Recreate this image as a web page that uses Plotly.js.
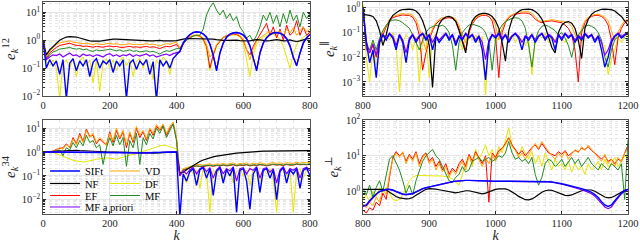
<!DOCTYPE html>
<html>
<head>
<meta charset="utf-8">
<script src="https://cdn.plot.ly/plotly-3.0.1.min.js"></script>
<style>html,body{margin:0;padding:0;background:#fff;}#chart{width:640px;height:243px;}</style>
</head>
<body>
<div id="chart"></div>
<script>
// ---------- sample positions ----------
const kLeft = [0,10,20,30,40,50,60,70,80,90,100,110,120,130,140,150,160,170,180,190,200,210,220,230,240,250,260,270,280,290,300,310,320,330,340,350,360,370,380,390,400,410,420,430,440,450,460,470,480,490,500,510,520,530,540,550,560,570,580,590,600,610,620,630,640,650,660,670,680,690,700,710,720,730,740,750,760,770,780,790,800];
const kRight = [800,805,810,815,820,825,830,835,840,845,850,855,860,865,870,875,880,885,890,895,900,905,910,915,920,925,930,935,940,945,950,955,960,965,970,975,980,985,990,995,1000,1005,1010,1015,1020,1025,1030,1035,1040,1045,1050,1055,1060,1065,1070,1075,1080,1085,1090,1095,1100,1105,1110,1115,1120,1125,1130,1135,1140,1145,1150,1155,1160,1165,1170,1175,1180,1185,1190,1195,1200];

// ---------- panel 1: e_k^12 ----------
const e12_NF = [1.0,0.3,0.45,0.6,0.8,1.0,1.15,1.3,1.35,1.35,1.3,1.2,1.1,1.0,0.95,0.92,0.9,0.92,0.97,1.02,1.08,1.1,1.1,1.08,1.05,1.05,1.02,1.0,1.0,1.02,1.0,0.98,0.95,0.95,0.97,0.98,0.95,0.93,0.93,0.95,0.97,1.05,1.1,1.15,1.15,1.12,1.1,1.1,1.12,1.15,1.15,1.1,1.05,1.0,0.98,0.98,1.0,1.02,1.0,0.97,0.95,0.93,0.95,1.0,1.05,1.02,0.98,0.95,0.97,1.02,1.05,1.0,0.95,0.97,1.02,0.95,0.9,0.95,1.05,1.12,1.15];
const e12_VD = [1.0,0.25,0.4,0.55,0.7,0.8,0.85,0.9,0.95,0.85,0.8,0.8,0.75,0.78,0.72,0.7,0.75,0.72,0.7,0.75,0.78,0.72,0.75,0.7,0.68,0.72,0.75,0.7,0.72,0.68,0.72,0.75,0.7,0.72,0.68,0.62,0.7,0.75,0.72,0.78,0.85,0.55,0.8,1.1,1.35,1.5,1.55,1.5,1.2,0.7,0.25,0.35,0.7,1.0,1.3,1.5,1.6,1.7,1.7,1.5,1.1,0.5,0.2,0.5,0.9,1.2,1.5,1.8,2.0,1.9,1.7,2.2,1.5,2.5,1.8,2.8,1.5,2.2,3.0,2.0,2.5];
const e12_EF = [1.0,0.22,0.35,0.45,0.55,0.65,0.7,0.75,0.78,0.7,0.65,0.65,0.6,0.62,0.58,0.56,0.6,0.58,0.56,0.6,0.62,0.58,0.6,0.56,0.55,0.58,0.6,0.56,0.58,0.55,0.58,0.6,0.56,0.58,0.55,0.5,0.56,0.6,0.58,0.62,0.7,0.5,0.75,1.05,1.3,1.45,1.5,1.4,1.1,0.6,0.1,0.3,0.65,0.95,1.25,1.45,1.55,1.65,1.6,1.4,1.0,0.45,0.3,0.6,1.0,1.5,2.5,4.0,1.5,3.0,1.2,2.5,1.0,3.5,1.5,2.0,5.0,1.5,3.0,1.5,2.0];
const e12_MF = [1.0,0.2,0.3,0.38,0.42,0.48,0.5,0.52,0.55,0.5,0.48,0.5,0.45,0.48,0.42,0.4,0.45,0.42,0.43,0.45,0.48,0.44,0.42,0.45,0.4,0.42,0.45,0.4,0.42,0.38,0.4,0.42,0.38,0.4,0.36,0.32,0.38,0.42,0.4,0.45,0.5,0.5,0.75,1.0,1.2,1.4,1.5,1.5,2.5,8.0,15,22,12,8,12,6,9,5,7,3,2,1.2,1.5,0.9,1.5,3,8,5,10,4,8,3,9,4,12,5,8,3,10,6,9];
const e12_DF = [1.0,0.18,0.12,0.2,0.1,0.008,0.15,0.2,0.1,0.22,0.05,0.18,0.25,0.12,0.2,0.03,0.2,0.015,0.15,0.22,0.1,0.2,0.08,0.18,0.25,0.12,0.2,0.05,0.18,0.22,0.1,0.2,0.15,0.04,0.2,0.12,0.25,0.18,0.06,0.22,0.3,0.4,0.7,1.0,1.25,1.4,1.45,1.35,1.0,0.45,0.08,0.25,0.6,0.9,1.2,1.4,1.5,1.55,1.5,1.3,0.8,0.2,0.05,0.3,0.7,1.0,1.3,1.5,1.7,1.6,1.4,1.1,0.6,0.25,0.1,0.3,0.7,1.0,1.3,1.6,1.8];
const e12_MFap = [1.0,0.2,0.25,0.3,0.28,0.32,0.25,0.3,0.35,0.28,0.3,0.25,0.32,0.28,0.3,0.26,0.3,0.28,0.25,0.3,0.33,0.27,0.3,0.26,0.3,0.28,0.32,0.26,0.3,0.27,0.3,0.32,0.27,0.3,0.25,0.28,0.3,0.32,0.28,0.33,0.35,0.38,0.75,1.15,1.55,1.85,1.95,1.9,1.65,1.25,0.7,0.28,0.09,0.33,0.78,1.25,1.6,1.8,1.85,1.75,1.5,1.1,0.6,0.24,0.09,0.33,0.78,1.2,1.55,1.8,1.85,1.75,1.5,1.1,0.6,0.24,0.13,0.33,0.78,1.2,1.6];
const e12_SIFt = [1.0,0.1,0.2,0.12,0.18,0.06,0.2,0.008,0.15,0.22,0.08,0.18,0.12,0.2,0.05,0.16,0.22,0.1,0.18,0.14,0.2,0.07,0.18,0.12,0.2,0.008,0.15,0.2,0.09,0.18,0.13,0.2,0.06,0.17,0.007,0.2,0.12,0.18,0.1,0.22,0.3,0.4,0.8,1.2,1.6,1.9,2.0,1.95,1.7,1.3,0.75,0.3,0.08,0.35,0.8,1.3,1.65,1.85,1.9,1.8,1.55,1.15,0.65,0.25,0.08,0.35,0.8,1.25,1.6,1.85,1.9,1.8,1.55,1.15,0.65,0.25,0.12,0.35,0.8,1.25,1.65];

// ---------- panel 2: e_k^parallel ----------
const ePar_NF = [0.55,0.53,0.5,0.45,0.3,0.12,0.03,0.08,0.3,0.5,0.65,0.78,0.86,0.9,0.9,0.86,0.75,0.55,0.3,0.12,0.03,0.0006,0.07,0.22,0.35,0.43,0.45,0.4,0.28,0.12,0.04,0.015,0.12,0.3,0.45,0.55,0.6,0.6,0.55,0.45,0.3,0.15,0.04,0.007,0.12,0.35,0.55,0.72,0.85,0.9,0.9,0.85,0.72,0.55,0.35,0.18,0.07,0.025,0.015,0.1,0.2,0.26,0.28,0.24,0.15,0.05,0.009,0.15,0.35,0.55,0.7,0.8,0.88,0.9,0.9,0.85,0.75,0.6,0.45,0.3,0.2];
const ePar_VD = [1.2,0.03,0.02,0.04,0.015,0.05,0.1,0.2,0.35,0.45,0.5,0.55,0.6,0.55,0.58,0.5,0.35,0.15,0.05,0.02,0.06,0.15,0.25,0.35,0.4,0.42,0.45,0.42,0.35,0.2,0.08,0.04,0.12,0.25,0.4,0.5,0.55,0.58,0.55,0.42,0.2,0.05,0.15,0.3,0.45,0.55,0.62,0.68,0.7,0.72,0.7,0.6,0.45,0.3,0.28,0.3,0.32,0.33,0.32,0.3,0.3,0.28,0.25,0.18,0.08,0.04,0.15,0.3,0.42,0.5,0.55,0.55,0.5,0.42,0.3,0.12,0.05,0.1,0.2,0.3,0.35];
const ePar_EF = [1.0,0.02,0.015,0.03,0.01,0.04,0.08,0.17,0.3,0.4,0.45,0.5,0.52,0.5,0.5,0.42,0.25,0.08,0.003,0.015,0.05,0.12,0.22,0.3,0.35,0.38,0.4,0.37,0.3,0.15,0.05,0.02,0.1,0.22,0.35,0.45,0.5,0.5,0.45,0.3,0.08,0.0015,0.1,0.25,0.4,0.5,0.55,0.6,0.62,0.62,0.6,0.5,0.35,0.28,0.25,0.28,0.3,0.3,0.28,0.26,0.25,0.2,0.15,0.08,0.02,0.001,0.1,0.25,0.38,0.45,0.5,0.5,0.45,0.35,0.2,0.05,0.005,0.06,0.15,0.25,0.3];
const ePar_MF = [0.8,0.03,0.02,0.05,0.02,0.06,0.12,0.2,0.28,0.32,0.33,0.3,0.25,0.2,0.15,0.08,0.04,0.02,0.05,0.1,0.15,0.18,0.2,0.18,0.2,0.16,0.1,0.03,0.003,0.04,0.1,0.15,0.2,0.22,0.2,0.18,0.15,0.1,0.04,0.003,0.05,0.12,0.2,0.28,0.33,0.38,0.4,0.38,0.3,0.15,0.03,0.004,0.05,0.12,0.18,0.2,0.18,0.15,0.12,0.08,0.1,0.06,0.03,0.01,0.04,0.08,0.12,0.18,0.2,0.18,0.15,0.1,0.05,0.01,0.004,0.02,0.05,0.07,0.08,0.06,0.05];
const ePar_DF = [1.5,0.01,0.001,0.02,0.005,0.03,0.06,0.08,0.05,0.1,0.03,0.0004,0.04,0.08,0.06,0.02,0.07,0.001,0.05,0.08,0.0015,0.06,0.09,0.04,0.07,0.1,0.05,0.08,0.03,0.07,0.02,0.06,0.09,0.05,0.08,0.04,0.07,0.0003,0.05,0.08,0.04,0.07,0.05,0.09,0.06,0.08,0.04,0.07,0.05,0.03,0.06,0.002,0.05,0.08,0.06,0.09,0.04,0.07,0.05,0.08,0.06,0.04,0.07,0.09,0.05,0.07,0.04,0.08,0.06,0.09,0.05,0.07,0.04,0.03,0.002,0.008,0.02,0.06,0.04,0.07,0.08];
const ePar_MFap = [1.0,0.045,0.015,0.035,0.012,0.05,0.085,0.06,0.095,0.07,0.03,0.085,0.05,0.015,0.06,0.085,0.05,0.075,0.095,0.06,0.085,0.04,0.075,0.05,0.07,0.095,0.06,0.085,0.04,0.075,0.06,0.095,0.07,0.085,0.05,0.075,0.04,0.008,0.05,0.085,0.07,0.095,0.06,0.085,0.05,0.075,0.095,0.07,0.04,0.075,0.06,0.085,0.05,0.075,0.095,0.06,0.085,0.07,0.04,0.085,0.06,0.095,0.07,0.085,0.05,0.075,0.06,0.095,0.07,0.085,0.05,0.075,0.04,0.012,0.02,0.05,0.075,0.095,0.07,0.085,0.105];
const ePar_SIFt = [1.0,0.04,0.006,0.02,0.0015,0.04,0.08,0.05,0.09,0.06,0.02,0.08,0.04,0.006,0.05,0.08,0.04,0.07,0.09,0.05,0.08,0.02,0.07,0.04,0.06,0.09,0.05,0.08,0.03,0.07,0.05,0.09,0.06,0.08,0.04,0.07,0.02,0.0012,0.04,0.08,0.06,0.09,0.05,0.08,0.04,0.07,0.09,0.06,0.02,0.07,0.05,0.08,0.04,0.07,0.09,0.05,0.08,0.06,0.02,0.08,0.05,0.09,0.06,0.08,0.04,0.07,0.05,0.09,0.06,0.08,0.04,0.07,0.02,0.004,0.01,0.04,0.07,0.09,0.06,0.08,0.1];

// ---------- panel 3: e_k^34 ----------
const e34_NF = [1.0,1.02,1.05,1.08,1.1,1.12,1.15,1.18,1.2,1.2,1.18,1.15,1.12,1.1,1.1,1.08,1.05,1.03,1.02,1.0,1.0,1.0,1.0,0.98,0.97,0.96,0.95,0.93,0.92,0.93,0.95,0.93,0.92,0.9,0.92,0.95,0.97,0.98,1.0,1.0,1.0,0.13,0.14,0.18,0.22,0.28,0.34,0.4,0.46,0.52,0.57,0.62,0.67,0.71,0.75,0.79,0.83,0.86,0.89,0.92,0.95,0.98,1.0,1.02,1.04,1.06,1.08,1.09,1.1,1.11,1.12,1.13,1.14,1.14,1.15,1.15,1.15,1.15,1.14,1.14,1.13];
const e34_VD = [1.0,1.0,1.0,1.1,1.2,1.5,1.3,2.0,1.6,3.5,2.0,5.0,2.5,8.0,4.0,6.0,2.5,4.0,3.0,1.8,6.0,3.0,10,4.0,8.0,2.0,7.0,3.0,12,5.0,8.0,3.5,10,6.0,14,9.0,15,6.0,12,18,4.0,0.12,0.2,0.22,0.25,0.28,0.3,0.3,0.28,0.3,0.32,0.28,0.32,0.3,0.33,0.3,0.32,0.35,0.3,0.33,0.32,0.35,0.3,0.34,0.32,0.35,0.33,0.3,0.34,0.36,0.33,0.35,0.32,0.36,0.34,0.33,0.37,0.34,0.36,0.35,0.37];
const e34_EF = [1.0,1.0,1.0,1.05,1.3,1.4,1.5,2.2,1.5,4.0,2.2,6.0,2.8,9.0,4.5,5.0,2.2,3.5,2.5,2.0,7.0,2.5,8.0,3.5,7.0,1.5,6.0,2.5,10,4.0,7.0,3.0,9.0,5.0,12,8.0,13,5.0,10,15,3.5,0.1,0.18,0.2,0.22,0.25,0.26,0.25,0.24,0.26,0.27,0.25,0.27,0.26,0.28,0.26,0.27,0.29,0.26,0.28,0.27,0.29,0.26,0.28,0.27,0.29,0.28,0.26,0.28,0.3,0.28,0.29,0.27,0.3,0.28,0.28,0.31,0.29,0.3,0.29,0.31];
const e34_MF = [1.0,1.0,1.0,1.0,1.1,1.2,0.7,1.5,1.2,2.5,1.5,3.0,1.8,5.0,2.5,3.0,1.5,2.0,0.3,1.5,4.0,1.8,5.0,2.0,4.0,0.25,3.0,1.5,6.0,0.3,4.0,2.0,6.0,3.5,10,6.0,12,4.0,8.0,15,3.0,0.11,0.17,0.2,0.22,0.25,0.26,0.25,0.26,0.27,0.28,0.26,0.28,0.27,0.29,0.27,0.28,0.3,0.27,0.29,0.28,0.3,0.27,0.29,0.28,0.3,0.29,0.27,0.29,0.31,0.29,0.3,0.28,0.31,0.29,0.29,0.32,0.3,0.31,0.3,0.32];
const e34_DF = [1.0,1.0,1.0,0.95,0.85,0.75,0.65,0.55,0.48,0.45,0.42,0.4,0.38,0.4,0.42,0.45,0.5,0.52,0.55,0.56,0.55,0.52,0.5,0.55,0.6,0.65,0.7,0.75,0.85,0.95,1.05,1.15,1.3,1.45,1.6,1.8,1.9,1.85,1.7,1.5,1.3,0.1,0.15,0.05,0.2,0.12,0.18,0.03,0.2,0.15,0.003,0.18,0.1,0.2,0.08,0.17,0.2,0.05,0.15,0.2,0.1,0.18,0.04,0.2,0.15,0.06,0.18,0.12,0.2,0.07,0.003,0.17,0.2,0.1,0.18,0.003,0.15,0.2,0.08,0.18,0.2];
const e34_MFap = [1.0,1.0,1.0,1.0,1.0,1.0,1.0,0.99,0.98,0.98,0.99,1.0,1.0,1.0,0.99,0.98,0.98,0.99,1.0,1.0,1.0,0.99,0.98,0.98,0.97,0.95,0.93,0.92,0.9,0.92,0.93,0.9,0.92,0.95,0.93,0.95,0.97,0.98,1.0,1.0,1.0,0.1,0.16,0.12,0.18,0.22,0.12,0.2,0.24,0.15,0.22,0.08,0.18,0.24,0.12,0.2,0.16,0.24,0.06,0.2,0.22,0.12,0.2,0.17,0.24,0.08,0.2,0.22,0.14,0.2,0.05,0.18,0.24,0.12,0.2,0.17,0.22,0.08,0.2,0.23,0.16];
const e34_SIFt = [1.0,1.0,1.0,1.0,1.0,1.0,1.0,0.99,0.98,0.98,0.99,1.0,1.0,1.0,0.99,0.98,0.98,0.99,1.0,1.0,1.0,0.99,0.98,0.98,0.97,0.95,0.93,0.92,0.9,0.92,0.93,0.9,0.92,0.95,0.93,0.95,0.97,0.98,1.0,1.0,1.0,0.002,0.12,0.06,0.15,0.2,0.04,0.18,0.22,0.08,0.2,0.015,0.15,0.22,0.05,0.18,0.1,0.22,0.003,0.17,0.2,0.06,0.004,0.12,0.22,0.02,0.17,0.2,0.08,0.18,0.01,0.15,0.22,0.05,0.18,0.12,0.2,0.03,0.17,0.21,0.1];

// ---------- panel 4: e_k^perp ----------
const ePerp_NF = [1.15,1.15,1.14,1.14,1.15,1.17,1.15,1.1,0.95,0.82,0.72,0.66,0.63,0.62,0.63,0.68,0.78,0.9,1.05,1.15,1.2,1.2,1.17,1.12,1.08,1.02,0.97,0.93,0.92,0.95,1.0,1.05,1.05,1.0,0.93,0.88,0.86,0.9,0.98,1.07,1.14,1.18,1.2,1.18,1.1,0.98,0.85,0.73,0.64,0.59,0.58,0.62,0.7,0.82,0.95,1.05,1.1,1.08,1.0,0.9,0.82,0.78,0.77,0.8,0.88,0.97,1.05,1.1,1.12,1.1,1.02,0.9,0.78,0.7,0.66,0.68,0.75,0.86,0.98,1.08,1.14];
const ePerp_VD = [0.45,0.35,0.5,0.4,0.7,0.5,1.2,0.8,3.0,8.0,12,9.0,13,6.0,10,7.0,12,5.0,9.0,11,6.0,8.0,4.0,6.0,3.5,5.0,2.5,4.0,3.0,5.0,7.0,4.0,10,6.0,12,8.0,5.0,9.0,6.0,11,7.0,12,15,20,30,18,14,9.0,12,8.0,11,15,22,16,25,18,13,10,8.0,12,9.0,13,8.0,11,15,12,18,14,20,15,12,9.0,7.0,11,6.0,8.0,5.0,9.0,7.0,12,15];
const ePerp_EF = [0.3,0.25,0.35,0.3,0.5,0.4,0.9,0.6,2.5,9.0,13,10,12,7.0,11,8.0,13,6.0,10,12,7.0,9.0,5.0,7.0,4.0,6.0,3.0,4.5,3.5,6.0,8.0,5.0,11,7.0,13,9.0,6.0,10,0.5,12,9.0,14,16,22,32,20,15,11,14,10,13,17,20,15,22,16,12,11,10,13,11,14,10,12,14,13,16,15,18,14,12,10,8.0,10,7.0,8.0,6.0,8.0,7.0,12,20];
const ePerp_MF = [1.2,0.8,1.5,0.7,1.3,2.0,1.0,3.0,8.0,10,6.0,4.0,2.0,0.9,1.5,0.8,2.0,4.0,7.0,10,12,15,10,8.0,5.0,3.0,2.0,1.8,2.5,3.0,5.0,3.5,4.0,7.0,8.0,9.0,7.0,8.0,9.0,7.0,8.0,10,9.0,12,25,12,8.0,9.0,7.0,8.0,6.0,9.0,3.0,1.5,2.5,6.0,8.0,7.0,5.0,6.0,8.0,5.0,7.0,9.0,6.0,8.0,5.0,7.0,9.0,6.0,5.0,4.0,6.0,5.0,4.0,6.0,5.0,4.0,6.0,0.6,28];
const ePerp_DF = [0.6,0.8,0.5,1.0,0.7,1.2,1.0,1.3,0.9,0.6,0.55,0.6,0.8,1.2,2.0,2.5,2.8,2.8,2.8,2.7,2.7,2.8,2.8,2.7,2.7,2.6,2.5,2.2,1.8,1.5,3.0,6.0,10,5.0,15,8.0,12,20,10,15,8.0,18,12,25,60,20,15,10,18,12,8.0,13,6.0,10,5.0,12,7.0,4.0,8.0,5.0,6.0,4.0,7.0,3.5,6.0,4.0,5.0,3.0,6.0,4.0,5.0,7.0,4.0,8.0,5.0,6.0,9.0,5.0,7.0,10,8.0];
const ePerp_MFap = [0.38,0.4,0.52,0.68,0.83,0.98,1.08,1.13,1.13,1.08,0.98,0.88,0.83,0.8,0.81,0.86,0.96,1.08,1.18,1.26,1.33,1.4,1.48,1.56,1.63,1.7,1.78,1.86,1.93,1.98,2.03,2.03,2.03,2.01,1.98,1.96,1.93,1.91,1.9,1.9,1.91,1.93,1.93,1.93,1.91,1.88,1.86,1.86,1.88,1.9,1.91,1.91,1.9,1.88,1.86,1.86,1.85,1.82,1.77,1.68,1.6,1.52,1.44,1.36,1.28,1.2,1.12,1.04,0.96,0.86,0.74,0.6,0.46,0.37,0.33,0.37,0.5,0.68,0.86,1.02,1.13];
const ePerp_SIFt = [0.4,0.42,0.55,0.7,0.85,1.0,1.1,1.15,1.15,1.1,1.0,0.9,0.85,0.82,0.83,0.88,0.98,1.1,1.2,1.28,1.35,1.42,1.5,1.58,1.65,1.72,1.8,1.88,1.95,2.0,2.05,2.05,2.05,2.03,2.0,1.98,1.95,1.93,1.92,1.92,1.93,1.95,1.95,1.95,1.93,1.9,1.88,1.88,1.9,1.92,1.93,1.93,1.92,1.9,1.88,1.88,1.87,1.85,1.8,1.72,1.65,1.57,1.5,1.42,1.35,1.27,1.2,1.12,1.05,0.95,0.82,0.68,0.52,0.42,0.38,0.42,0.55,0.72,0.9,1.05,1.15];

// ---------- tick labels ----------
const xTicksLeft = [0,200,400,600,800];
const xTicksRight = [800,900,1000,1100,1200];
const yTicksVals = [100,10,1,0.1,0.01,0.001];
const yTicksText = ['10<sup>2</sup>','10<sup>1</sup>','10<sup>0</sup>','10<sup>−1</sup>','10<sup>−2</sup>','10<sup>−3</sup>'];
const seriesNames = ['SIFt','NF','EF','MF a priori','VD','DF','MF'];

// ---------- styling ----------
const FONT = 'Liberation Serif, DejaVu Serif, serif';
const STYLE = {
  'DF':          {color:'#e6e600', width:1,   legend:'legend2', rank:2},
  'EF':          {color:'#ff0000', width:1,   legend:'legend3', rank:1},
  'VD':          {color:'#ffa500', width:1,   legend:'legend',  rank:2},
  'MF':          {color:'#228b22', width:1,   legend:'legend3', rank:2},
  'NF':          {color:'#000000', width:1.2, legend:'legend2', rank:1},
  'MF a priori': {color:'#8000ff', width:1.2, legend:'legend4', rank:1},
  'SIFt':        {color:'#0000ff', width:1.4, legend:'legend',  rank:1}
};
const drawOrder = ['DF','EF','VD','MF','NF','MF a priori','SIFt'];

const panels = [
  {k:kLeft,  xa:'x',  ya:'y',  d:{'SIFt':e12_SIFt,'NF':e12_NF,'EF':e12_EF,'MF a priori':e12_MFap,'VD':e12_VD,'DF':e12_DF,'MF':e12_MF}},
  {k:kRight, xa:'x2', ya:'y2', d:{'SIFt':ePar_SIFt,'NF':ePar_NF,'EF':ePar_EF,'MF a priori':ePar_MFap,'VD':ePar_VD,'DF':ePar_DF,'MF':ePar_MF}},
  {k:kLeft,  xa:'x3', ya:'y3', d:{'SIFt':e34_SIFt,'NF':e34_NF,'EF':e34_EF,'MF a priori':e34_MFap,'VD':e34_VD,'DF':e34_DF,'MF':e34_MF}, legend:true},
  {k:kRight, xa:'x4', ya:'y4', d:{'SIFt':ePerp_SIFt,'NF':ePerp_NF,'EF':ePerp_EF,'MF a priori':ePerp_MFap,'VD':ePerp_VD,'DF':ePerp_DF,'MF':ePerp_MF}}
];

const traces = [];
panels.forEach(p => {
  drawOrder.forEach(name => {
    const s = STYLE[name];
    traces.push({
      type:'scatter', mode:'lines', x:p.k, y:p.d[name], xaxis:p.xa, yaxis:p.ya,
      name:name, line:{color:s.color, width:s.width},
      showlegend: !!p.legend, legend:s.legend, legendrank:s.rank, hoverinfo:'skip'
    });
  });
});

// minor grid positions for log axes (2..9 per decade) -- axis styling only
const logMinor = [];
[-4,-3,-2,-1,0,1].forEach(e => { for (let m = 2; m <= 9; m++) logMinor.push(m * Math.pow(10, e)); });

const GRID = '#d6d6d6';
const MINORGRID = '#dcdcdc';
function xAxis(domain, range, ticks, minorStep, anchor, title) {
  return {
    domain:domain, range:range, anchor:anchor, tickmode:'array', tickvals:ticks, ticktext:ticks.map(String),
    ticks:'inside', ticklen:3, tickcolor:'#262626', showline:true, linecolor:'#262626', linewidth:0.8,
    mirror:'ticks', showgrid:true, gridcolor:GRID, gridwidth:0.6, zeroline:false,
    ticklabeloverflow:'allow',
    minor:{tickmode:'linear', tick0:range[0], dtick:minorStep, ticks:'', showgrid:true, gridcolor:MINORGRID, griddash:'dot', gridwidth:0.7},
    tickfont:{family:FONT, size:10.5, color:'#262626'},
    title: title ? {text:'<i>k</i>', font:{family:FONT, size:14, color:'#262626'}, standoff:2} : undefined
  };
}
function yAxis(domain, range, anchor, title) {
  return {
    type:'log', domain:domain, range:range, anchor:anchor,
    tickmode:'array', tickvals:yTicksVals, ticktext:yTicksText,
    ticks:'inside', ticklen:3, tickcolor:'#262626', showline:true, linecolor:'#262626', linewidth:0.8,
    mirror:'ticks', showgrid:true, gridcolor:GRID, gridwidth:0.6, zeroline:false,
    minor:{tickmode:'array', tickvals:logMinor, ticks:'inside', ticklen:2, tickcolor:'#262626', showgrid:true, gridcolor:MINORGRID, griddash:'dot', gridwidth:0.7},
    tickfont:{family:FONT, size:10.5, color:'#262626'},
    title:{text:title, font:{family:FONT, size:15, color:'#262626'}, standoff:3}
  };
}
const DL = [0, 0.4564], DR = [0.547, 1], DT = [0.5566, 1], DB = [0, 0.4434];
function leg(y, ew) {
  return {orientation:'h', x:0.0034, xanchor:'left', y:y, yanchor:'middle', bgcolor:'rgba(0,0,0,0)',
    borderwidth:0, font:{family:FONT, size:10.5, color:'#000'}, entrywidth:ew, itemwidth:30, traceorder:'normal'};
}

const layout = {
  width:640, height:243, paper_bgcolor:'#fff', plot_bgcolor:'#fff',
  margin:{l:43, r:12, t:2, b:29, autoexpand:false},
  font:{family:FONT, size:10.5, color:'#262626'},
  xaxis:  xAxis(DL, [0,800],    xTicksLeft,  50, 'y',  false),
  xaxis2: xAxis(DR, [800,1200], xTicksRight, 25, 'y2', false),
  xaxis3: xAxis(DL, [0,800],    xTicksLeft,  50, 'y3', true),
  xaxis4: xAxis(DR, [800,1200], xTicksRight, 25, 'y4', true),
  yaxis:  yAxis(DT, [-2, 1.37],   'x',  '<i>e</i><sub><i>k</i></sub><sup>12</sup>'),
  yaxis2: yAxis(DT, [-3.57, 0.24],'x2', '<i>e</i><sub><i>k</i></sub><sup>∥</sup>'),
  yaxis3: yAxis(DB, [-2.6, 1.34], 'x3', '<i>e</i><sub><i>k</i></sub><sup>34</sup>'),
  yaxis4: yAxis(DB, [-0.63, 2],   'x4', '<i>e</i><sub><i>k</i></sub><sup>⊥</sup>'),
  legend:  leg(0.2028, 15),
  legend2: leg(0.1439, 15),
  legend3: leg(0.0873, 15),
  legend4: leg(0.0330, 60),
  showlegend:true
};

Plotly.newPlot('chart', traces, layout, {staticPlot:true, displayModeBar:false});
</script>
</body>
</html>
